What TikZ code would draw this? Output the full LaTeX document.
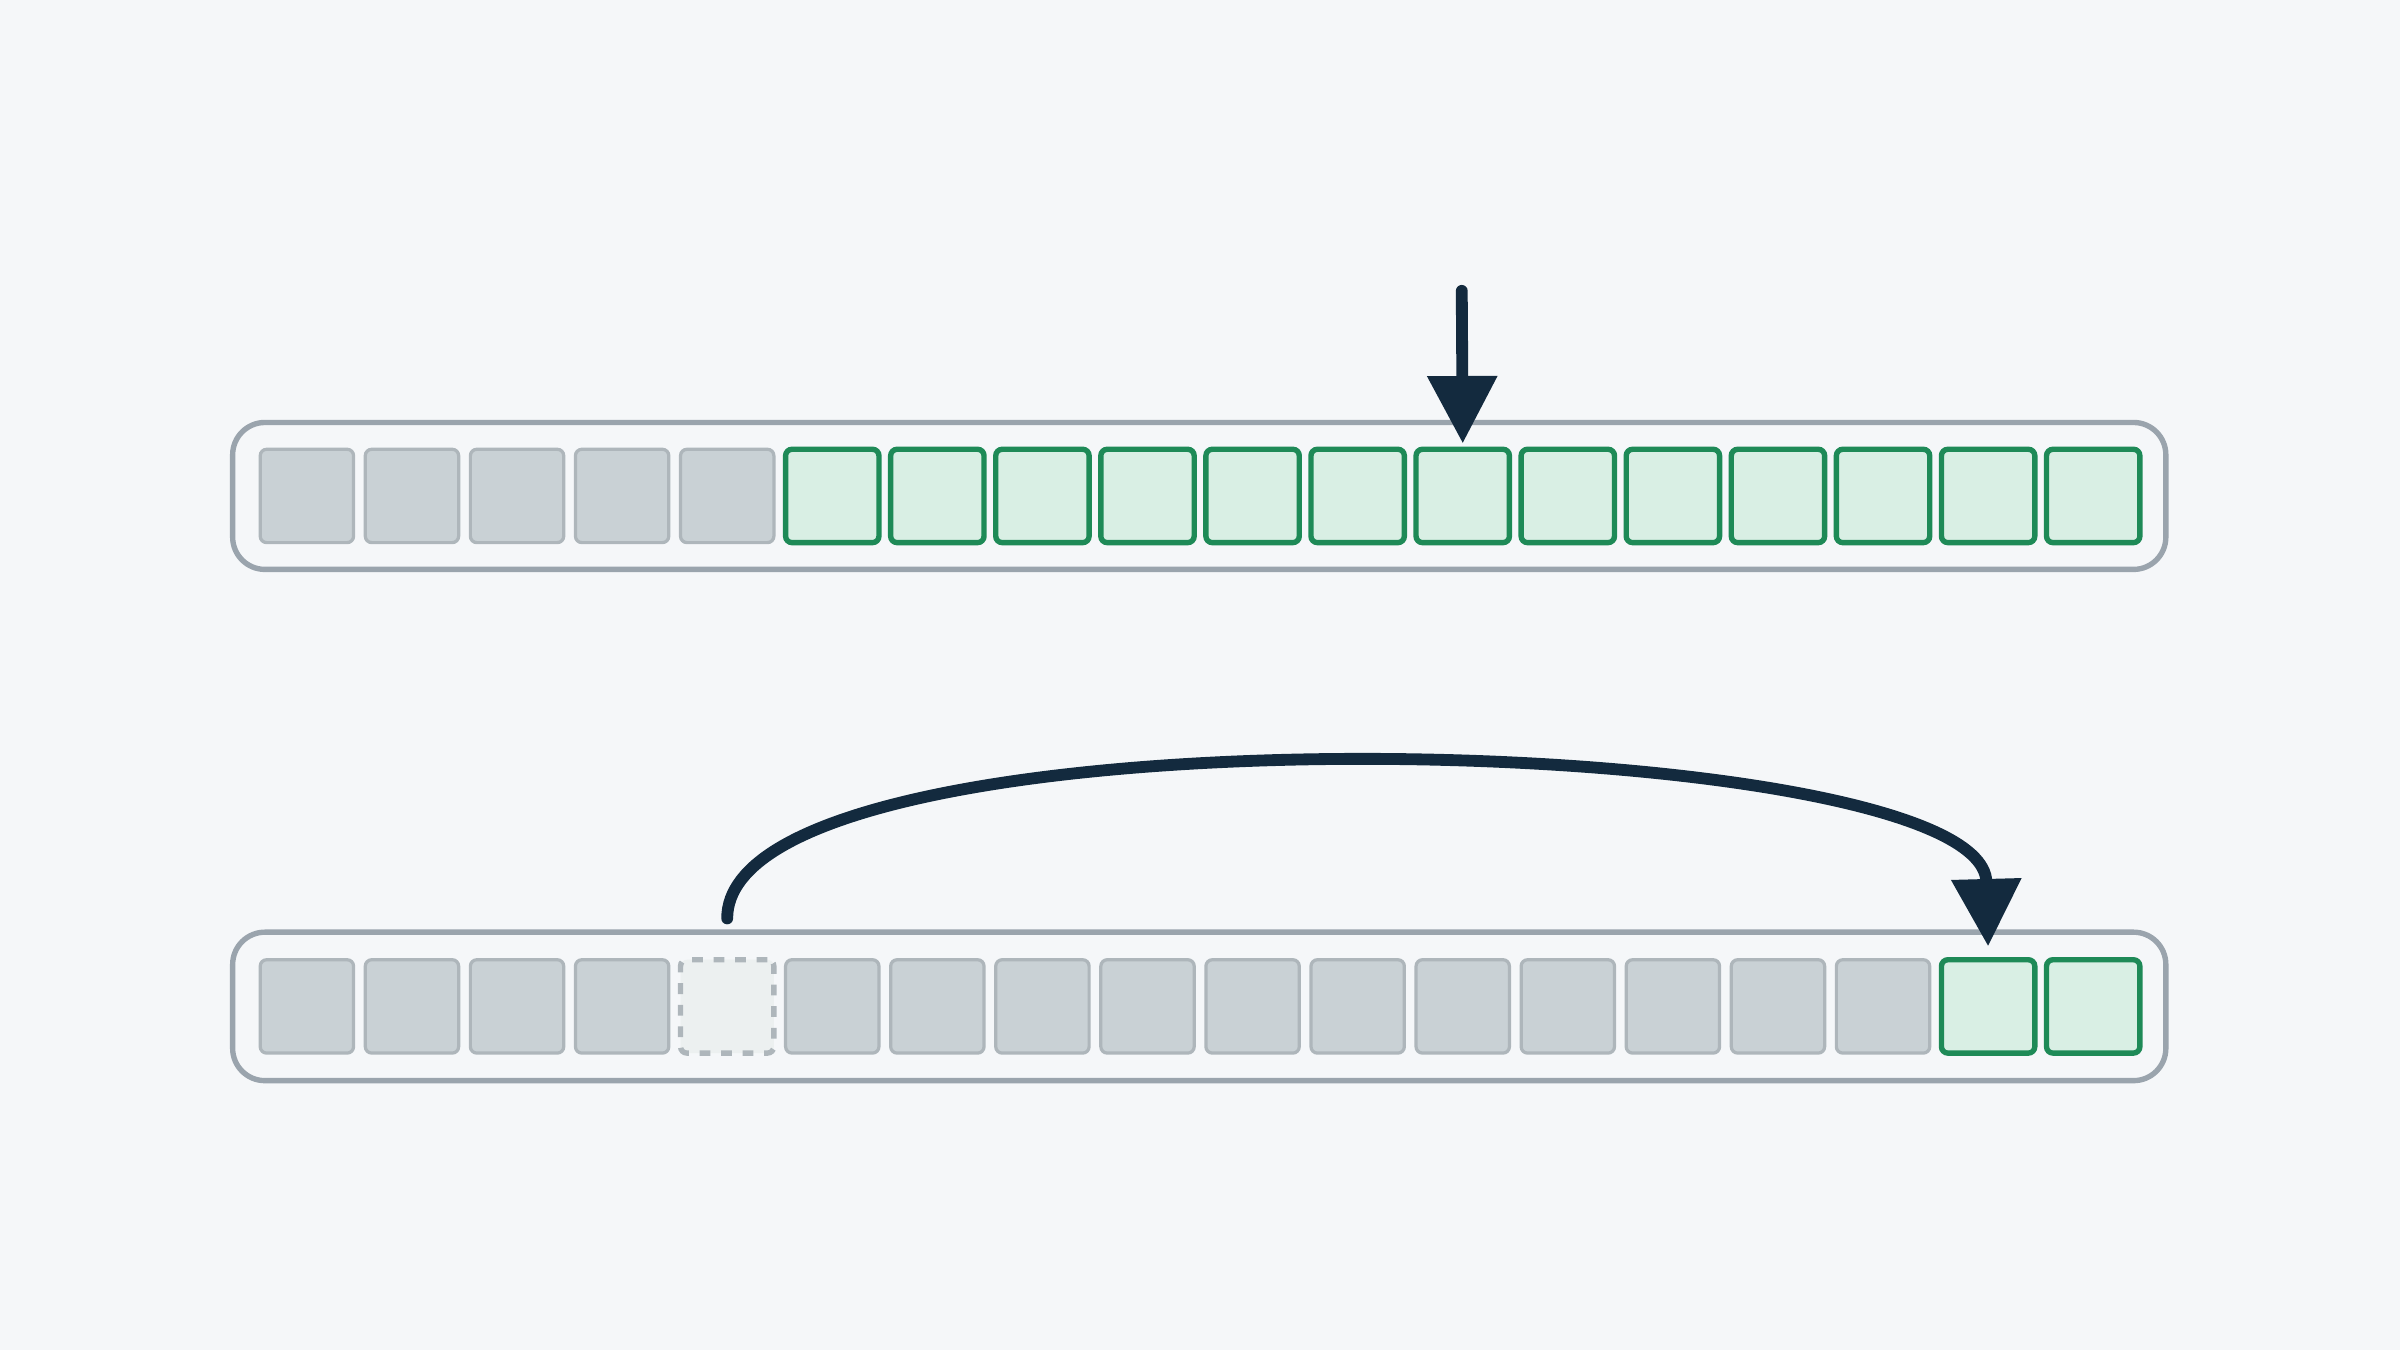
\documentclass[tikz,border=0pt]{standalone}
\usetikzlibrary{arrows.meta}
\definecolor{bgcol}{HTML}{F5F7F9}
\definecolor{slotgray}{HTML}{C9D1D5}
\definecolor{slotedge}{HTML}{AEB6BB}
\definecolor{holefill}{HTML}{ECF0F0}
\definecolor{freegreen}{HTML}{D9EFE4}
\definecolor{freeedge}{HTML}{1E8A57}
\definecolor{boxedge}{HTML}{9AA4AD}
\definecolor{arrowcol}{HTML}{132A3E}
\tikzset{
	cell/.style={minimum width=0.61cm, minimum height=0.61cm, inner sep=0pt, rounded corners=1.2pt, line width=0.6pt},
	used/.style={cell, fill=slotgray, draw=slotedge},
	free/.style={cell, fill=freegreen, draw=freeedge, line width=1pt},
	hole/.style={cell, fill=holefill, draw=slotedge, dash pattern=on 2pt off 2pt, line width=1pt},
	pointer/.style={draw=arrowcol, line width=2.2pt, line cap=round, -{Triangle[width=0.44cm,length=0.44cm]}}
}
\begin{document}
\begin{tikzpicture}
	% Tausta
	\fill[bgcol] (0,0) rectangle (15.68,-8.82);
	\useasboundingbox (0,0) rectangle (15.68,-8.82);
	
	% Ylempi rivi
	\draw[boxedge, line width=1pt, rounded corners=6pt] (1.52,-2.76) rectangle (14.15,-3.72);
	\foreach \i in {1,...,18} {
		\pgfmathsetmacro{\x}{2.005+(\i-1)*0.6865}
		\ifnum\i<6
			\node[used] (t\i) at (\x,-3.24) {};
		\else
			\node[free] (t\i) at (\x,-3.24) {};
		\fi
	}
	
	% Alempi rivi
	\draw[boxedge, line width=1pt, rounded corners=6pt] (1.52,-6.09) rectangle (14.15,-7.06);
	\foreach \i in {1,...,18} {
		\pgfmathsetmacro{\x}{2.005+(\i-1)*0.6865}
		\ifnum\i=5
			\node[hole] (b\i) at (\x,-6.575) {};
		\else\ifnum\i<17
			\node[used] (b\i) at (\x,-6.575) {};
		\else
			\node[free] (b\i) at (\x,-6.575) {};
		\fi\fi
	}
	
	% Osoittimet
	\coordinate (top) at (9.55,-1.90);
	\draw[pointer] (top) -- ([yshift=0.6pt]t12.north);
	\coordinate (start) at (b5.north |- 0,-6.00);
	\draw[pointer] (start) .. controls (4.75,-4.55) and (12.95,-4.75) .. ([yshift=0.7mm]b17.north);
\end{tikzpicture}
\end{document}
